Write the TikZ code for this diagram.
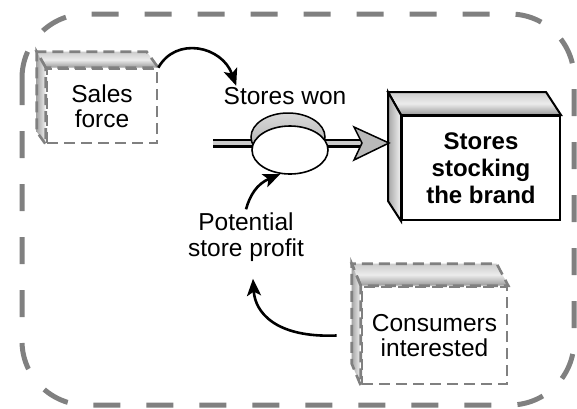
\documentclass[tikz,border=0pt]{standalone}
\usepackage{fontspec}
\setmainfont{Liberation Sans}
\usepackage{tikz}
\usetikzlibrary{arrows.meta, positioning, calc, shapes.geometric}
\definecolor{dashgray}{rgb}{0.5, 0.5, 0.5}

\begin{document}
\begin{tikzpicture}[x=1pt, y=-1pt,
    every node/.style={font=\fontsize{24.5}{25.5}\selectfont, align=center},
    border/.style={draw=dashgray, line width=5pt, dash pattern=on 27pt off 26pt, rounded corners=64pt},
    auxbox/.style={draw=dashgray, line width=2.6pt, dash pattern=on 11pt off 6pt},
    stockbox/.style={draw=black, line width=2pt, fill=white},
    topface/.style={top color=gray!40, bottom color=gray!80, middle color=gray!15},
    sideface/.style={left color=gray!70, right color=gray!10},
    link/.style={draw=black, line width=2.6pt, -{Stealth[length=17pt, width=14pt, inset=4pt]}}
  ]
  \useasboundingbox (0,0) rectangle (577,408);
  \draw[border] (22,14) rectangle (574,405);

  % auxiliaries
  \pgfmathsetmacro{\depx}{-9}
  \node[auxbox, minimum width=110pt, minimum height=74pt] (sales) at (102,106) {Sales\\force};
  \draw[auxbox, topface] (sales.north west) -- ++(\depx,-16) -- ++(110,0) -- (sales.north east) -- cycle;
  \draw[auxbox, sideface] (sales.north west) -- ++(\depx,-16) -- ++(0,80) -- (sales.south west) -- cycle;

  \node[auxbox, minimum width=145pt, minimum height=97pt] (consumers) at (434.5,335.5) {Consumers\\interested};
  \draw[auxbox, topface] (consumers.north west) -- ++(\depx,-22) -- ++(145,0) -- (consumers.north east) -- cycle;
  \draw[auxbox, sideface] (consumers.north west) -- ++(\depx,-22) -- ++(0,100) -- (consumers.south west) -- cycle;

  % stock
  \node[stockbox, minimum width=158pt, minimum height=104pt, font=\fontsize{24}{27}\selectfont\bfseries] (stock) at (481,168) {Stores\\stocking\\the brand};
  \draw[stockbox, topface] (stock.north west) -- ++(-13,-23) -- ++(158,0) -- (stock.north east) -- cycle;
  \draw[stockbox, sideface] (stock.north west) -- ++(-13,-23) -- ++(0,109) -- (stock.south west) -- cycle;

  % flow with valve
  \coordinate (source) at (213,143);
  \coordinate (tip) at (389,143);
  \coordinate (valvec) at (290,150);
  \draw[line width=9pt, black] (source) -- ([xshift=-28pt]tip);
  \draw[line width=4pt, gray!40] (source) -- ([xshift=-28pt]tip);
  \draw[black, line width=1.5pt, fill=gray!55] (tip) -- ++(-35,-16) -- ++(8,16) -- ++(-8,17) -- cycle;
  \draw[black, line width=1.5pt, top color=gray!30, bottom color=gray!70] ([shift={(-2,-13)}]valvec) ellipse [x radius=37pt, y radius=24pt];
  \node[ellipse, draw, line width=1.6pt, fill=white, minimum width=76pt, minimum height=48pt] (valve) at (valvec) {};

  \node (won) at (285,96) {Stores won};
  \node (profit) at (246,237) {Potential\\store profit};

  % links
  \draw[link] (sales.north east) .. controls (176,36) and (222,46) .. ([shift={(16,2)}]won.north west);
  \draw[link] (profit.north) .. controls (250,195) and (257,184) .. (valve.-112);
  \draw[link] ([xshift=-24pt]consumers.west) .. controls (275,338) and (255,312) .. ([shift={(7,14)}]profit.south);
\end{tikzpicture}
\end{document}
